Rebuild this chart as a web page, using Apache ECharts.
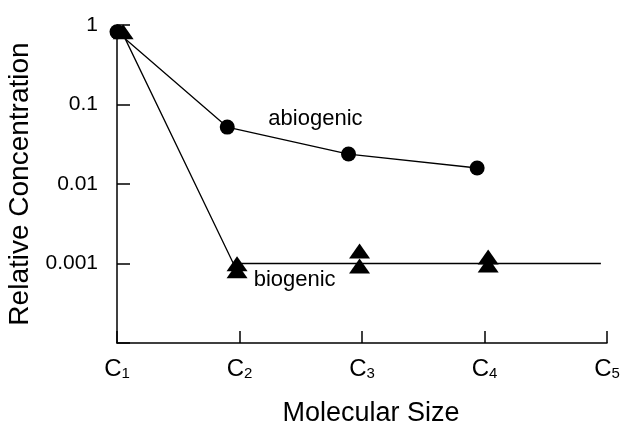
<!DOCTYPE html>
<html>
<head>
<meta charset="utf-8">
<script src="https://cdn.jsdelivr.net/npm/echarts@6/dist/echarts.min.js"></script>
<style>
  html, body { margin: 0; padding: 0; background: #fff; }
  #chart { width: 620px; height: 424px; }
</style>
</head>
<body>
<div id="chart"></div>
<script>
// molecular size positions (C1..C5 = 1..5) and relative concentrations
const abiogenicX = [1, 1.9, 2.89, 3.94]
const abiogenicY = [0.82, 0.052, 0.0238, 0.0159]

// fitted biogenic trend line
const biogenicLineX = [1.04, 1.95, 4.95]
const biogenicLineY = [0.82, 0.001, 0.001]

// individual biogenic measurements (triangles)
const biogenicX = [1.05, 1.98, 1.98, 2.98, 2.98, 4.03, 4.03]
const biogenicY = [0.82, 0.00099, 0.00081, 0.00144, 0.00093, 0.00121, 0.00096]

const xTickLabels = ['1', '2', '3', '4', '5']
const yTickLabels = ['', '0.001', '0.01', '0.1', '1']

const font = '"Liberation Sans", Arial, Helvetica, sans-serif'
const zip = (xs, ys) => xs.map((x, i) => [x, ys[i]])

const chart = echarts.init(document.getElementById('chart'))

const noteLabel = (text) => ({
  symbol: 'circle',
  symbolSize: 1,
  itemStyle: { color: 'rgba(0,0,0,0)' },
  label: { show: true, position: 'inside', formatter: text, fontSize: 22, color: '#000', fontFamily: font }
})

chart.setOption({
  animation: false,
  textStyle: { fontFamily: font, color: '#000' },
  grid: { left: 117, right: 13, top: 25, bottom: 81, outerBoundsMode: 'none' },
  xAxis: {
    type: 'value',
    min: 1,
    max: 5,
    interval: 1,
    name: 'Molecular Size',
    nameLocation: 'middle',
    nameGap: 57,
    nameTextStyle: { fontSize: 27, color: '#000', fontFamily: font, padding: [0, 0, 0, 18] },
    axisLine: { lineStyle: { color: '#000', width: 1.5 } },
    axisTick: { inside: true, length: 12, lineStyle: { color: '#000', width: 1.5 } },
    splitLine: { show: false },
    axisLabel: {
      margin: 14,
      color: '#000',
      fontFamily: font,
      formatter: (v, i) => '{c|C}{s|' + xTickLabels[i] + '}',
      rich: {
        c: { fontSize: 24, fontFamily: font, color: '#000', verticalAlign: 'top', lineHeight: 24 },
        s: { fontSize: 15, fontFamily: font, color: '#000', verticalAlign: 'bottom', lineHeight: 15, padding: [15, 0, 0, 0] }
      }
    }
  },
  yAxis: {
    type: 'log',
    logBase: 10,
    min: 0.0001,
    max: 1,
    name: 'Relative Concentration',
    nameLocation: 'middle',
    nameGap: 76,
    nameTextStyle: { fontSize: 28, color: '#000', fontFamily: font },
    axisLine: { lineStyle: { color: '#000', width: 1.5 } },
    axisTick: { inside: true, length: 13, lineStyle: { color: '#000', width: 1.5 } },
    splitLine: { show: false },
    axisLabel: {
      margin: 19,
      fontSize: 21,
      color: '#000',
      fontFamily: font,
      formatter: (v, i) => yTickLabels[i] ?? ''
    }
  },
  series: [
    {
      name: 'abiogenic',
      type: 'line',
      data: zip(abiogenicX, abiogenicY),
      symbol: 'circle',
      symbolSize: 15,
      itemStyle: { color: '#000' },
      lineStyle: { color: '#000', width: 1.3 },
      markPoint: { ...noteLabel('abiogenic'), data: [{ coord: [2.62, 0.066] }] }
    },
    {
      name: 'biogenic trend',
      type: 'line',
      data: zip(biogenicLineX, biogenicLineY),
      showSymbol: false,
      symbol: 'none',
      lineStyle: { color: '#000', width: 1.3 },
      markPoint: { ...noteLabel('biogenic'), data: [{ coord: [2.45, 0.00062] }] }
    },
    {
      name: 'biogenic',
      type: 'scatter',
      data: zip(biogenicX, biogenicY),
      symbol: 'triangle',
      symbolSize: [21, 15],
      itemStyle: { color: '#000', opacity: 1 }
    }
  ]
})
</script>
</body>
</html>
